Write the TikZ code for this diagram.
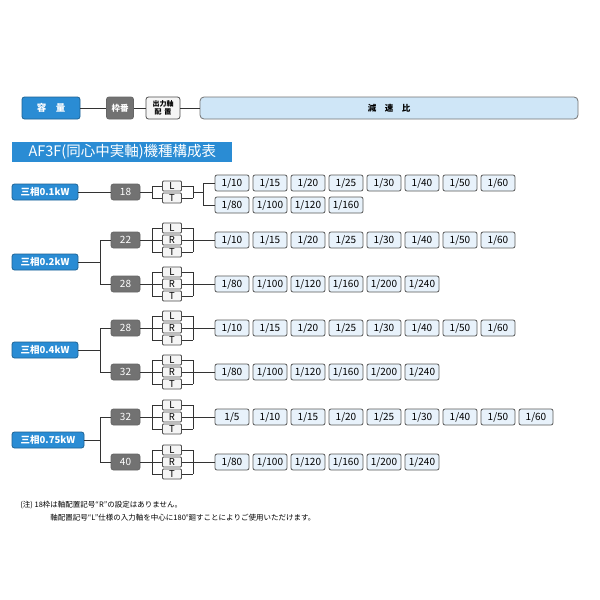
\documentclass[tikz,border=0pt]{standalone}
\usepackage{fontspec}
\setmainfont{Noto Sans CJK JP}
\begin{document}
\begin{tikzpicture}[x=1pt,y=-1pt,line width=0.8pt,
 blu/.style={fill=bluc,draw=bluc!70!black,rounded corners=2.5pt,text=white,font=\bfseries\fontsize{9.5}{10}\selectfont,inner sep=0pt},
 frm/.style={fill=frmc,draw=black!60,rounded corners=2.5pt,text=white,minimum width=29pt,minimum height=16pt,font=\fontsize{10}{10}\selectfont,inner sep=0pt},
 sel/.style={fill=gray!8,draw=black!70,rounded corners=1pt,minimum width=19pt,minimum height=10pt,inner sep=0pt,font=\fontsize{9.5}{9}\selectfont},
 rat/.style={fill=ratc,draw=black!65,rounded corners=2pt,minimum width=34pt,minimum height=16pt,inner sep=0pt,font=\fontsize{10}{10}\selectfont},
 ln/.style={draw=black!80}]
\definecolor{bluc}{HTML}{2A8CD4}
\definecolor{ratc}{HTML}{E8F2FB}
\definecolor{hdrc}{HTML}{CFE6F7}
\definecolor{frmc}{HTML}{727272}
\fill[white] (0,0) rectangle (600,600);
% header
\node[blu,minimum width=58pt,minimum height=22pt] (cap) at (51,108) {容\quad 量};
\node[frm,minimum width=27pt,minimum height=22pt,font=\bfseries\fontsize{8.5}{9}\selectfont] (wak) at (120,108) {枠番};
\node[sel,minimum width=34pt,minimum height=22pt,rounded corners=2.5pt,font=\bfseries\fontsize{7}{7.5}\selectfont,align=center] (shu) at (163,108) {出力軸\\配\,\ 置};
\node[fill=hdrc,draw=black!55,rounded corners=4pt,minimum width=378pt,minimum height=22pt,inner sep=0pt,font=\bfseries\fontsize{8.5}{9}\selectfont] (gen) at (389,108) {減\quad 速\quad 比};
\draw[ln] (cap)--(wak); \draw[ln] (wak)--(shu); \draw[ln] (shu)--(gen);
\node[fill=bluc,text=white,minimum width=220pt,minimum height=20pt,inner sep=0pt,anchor=west,font=\fontsize{14.5}{15}\selectfont] (ttl) at (12,152) {AF3F(同心中実軸)機種構成表};
% macro for group
\newcommand\grp[4]{%
 \node[frm] (f#1) at (125.5,#2) {#3};
 \node[sel] (L#1) at (172,#2-12) {L};
 \node[sel] (R#1) at (172,#2) {R};
 \node[sel] (T#1) at (172,#2+12) {T};
 \coordinate (bl#1) at (152,#2); \coordinate (br#1) at (193,#2);
 \draw[ln] (f#1) -- (bl#1);
 \draw[ln] (bl#1 |- L#1) -- (bl#1 |- T#1);
 \draw[ln] (br#1 |- L#1) -- (br#1 |- T#1);
 \foreach \X in {L,R,T}{\draw[ln] (bl#1 |- \X#1) -- (\X#1); \draw[ln] (\X#1) -- (br#1 |- \X#1);}
 \foreach \r [count=\i] in {#4} \node[rat] (r#1-\i) at ({232+38*(\i-1)},#2) {1/\r};
 \draw[ln] (br#1) -- (r#1-1);
}
% row 1
\node[blu,minimum width=66pt,minimum height=16pt] (p1) at (45,192) {三相0.1kW};
\node[frm] (f18) at (125.5,192) {18};
\node[sel] (L18) at (172,186) {L};
\node[sel] (T18) at (172,198) {T};
\coordinate (bl18) at (152,192); \coordinate (br18) at (193,192); \coordinate (sp18) at (203,192);
\draw[ln] (p1)--(f18); \draw[ln] (f18)--(bl18);
\draw[ln] (bl18|-L18)--(bl18|-T18); \draw[ln] (br18|-L18)--(br18|-T18);
\foreach \X in {L,T}{\draw[ln] (bl18|-\X18)--(\X18); \draw[ln] (\X18)--(br18|-\X18);}
\draw[ln] (br18)--(sp18);
\foreach \r [count=\i] in {10,15,20,25,30,40,50,60} \node[rat] (ra-\i) at ({232+38*(\i-1)},183) {1/\r};
\foreach \r [count=\i] in {80,100,120,160} \node[rat] (rb-\i) at ({232+38*(\i-1)},205) {1/\r};
\draw[ln] (sp18|-ra-1)--(sp18|-rb-1);
\draw[ln] (sp18|-ra-1)--(ra-1); \draw[ln] (sp18|-rb-1)--(rb-1);
% rows 2-4
\grp{a}{240}{22}{10,15,20,25,30,40,50,60}
\grp{b}{284}{28}{80,100,120,160,200,240}
\grp{c}{328}{28}{10,15,20,25,30,40,50,60}
\grp{d}{372}{32}{80,100,120,160,200,240}
\grp{e}{417}{32}{5,10,15,20,25,30,40,50,60}
\grp{f}{462}{40}{80,100,120,160,200,240}
\node[blu,minimum width=66pt,minimum height=16pt] (p2) at (45,262) {三相0.2kW};
\node[blu,minimum width=66pt,minimum height=16pt] (p3) at (45,350) {三相0.4kW};
\node[blu,minimum width=72pt,minimum height=16pt] (p4) at (48,440) {三相0.75kW};
\coordinate (s2) at (100,262); \coordinate (s3) at (100,350); \coordinate (s4) at (100,440);
\draw[ln] (p2)--(s2); \draw[ln] (s2|-fa)--(s2|-fb); \draw[ln] (s2|-fa)--(fa); \draw[ln] (s2|-fb)--(fb);
\draw[ln] (p3)--(s3); \draw[ln] (s3|-fc)--(s3|-fd); \draw[ln] (s3|-fc)--(fc); \draw[ln] (s3|-fd)--(fd);
\draw[ln] (p4)--(s4); \draw[ln] (s4|-fe)--(s4|-ff); \draw[ln] (s4|-fe)--(fe); \draw[ln] (s4|-ff)--(ff);
% notes
\node[anchor=west,inner sep=0pt,font=\fontsize{7.5}{8}\selectfont] (n1) at (20,505) {(注) 18枠は軸配置記号“R”の設定はありません。};
\node[anchor=west,inner sep=0pt,font=\fontsize{7.5}{8}\selectfont] (n2) at (50,518) {軸配置記号“L”仕様の入力軸を中心に180°廻すことによりご使用いただけます。};
\end{tikzpicture}
\end{document}
